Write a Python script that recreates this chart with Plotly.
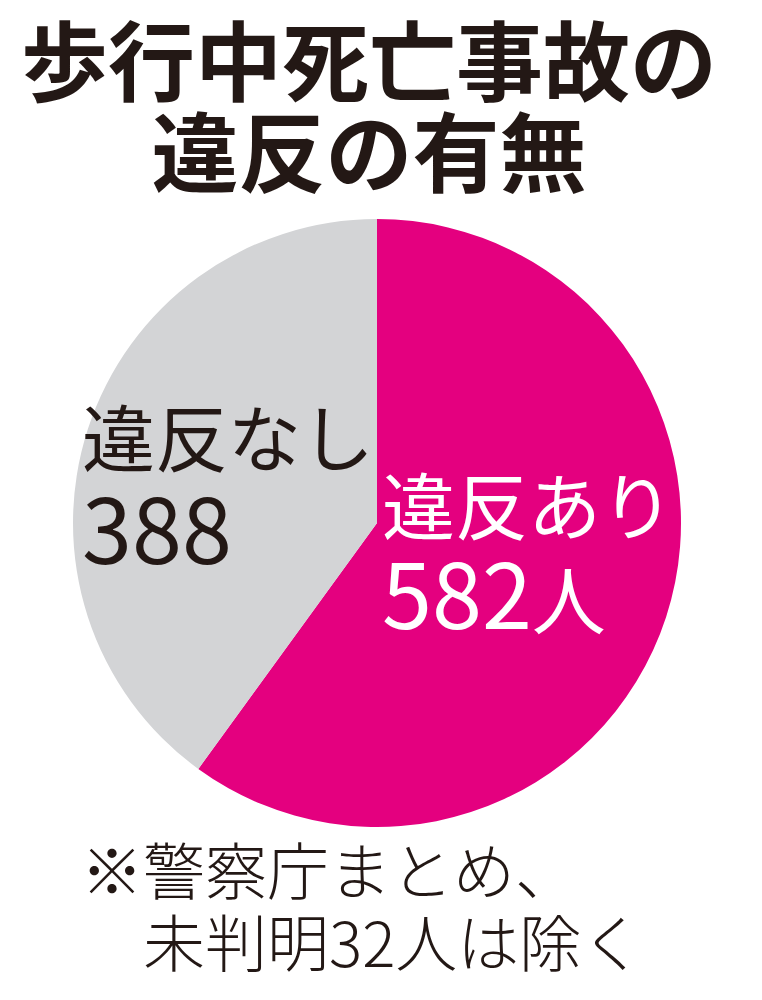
import plotly.graph_objects as go

# ---- data ----
title_lines = ["歩行中死亡事故の", "違反の有無"]
categories = ["違反あり", "違反なし"]
values = [582, 388]
units = ["人", ""]
note_lines = ["※警察庁まとめ、", "未判明32人は除く"]

W, H = 762, 1000
OFF = 8  # default page body margin
MAGENTA = "#E4007F"
GRAY = "#D3D4D6"
INK = "#231815"
FONT = "Noto Sans CJK JP"


def px_x(x):
    return (x - OFF) / W


def px_y(y):
    return 1 - (y - OFF) / H


cx, cy, r = 377, 523, 304
fig = go.Figure(go.Pie(
    labels=categories,
    values=values,
    sort=False,
    direction="clockwise",
    rotation=0,
    marker=dict(colors=[MAGENTA, GRAY], line=dict(width=0)),
    textinfo="none",
    hoverinfo="label+value",
    showlegend=False,
    domain=dict(x=[px_x(cx - r), px_x(cx + r)], y=[px_y(cy + r), px_y(cy - r)]),
))


def sized(s, size):
    return f"<span style='font-size:{size}px'>{s}</span>"


ann = []
# title: two centred bold lines in one text (base size sets the line gap)
ann.append(dict(text="<br>".join(sized(t, 87) for t in title_lines),
                x=px_x(369), y=px_y(103), xanchor="center", yanchor="middle", align="center",
                font=dict(family=FONT, size=70, color=INK, weight=700)))

# slice labels
label_pos = {
    "違反あり": dict(x=380, y=552, color="#FFFFFF", base=73),
    "違反なし": dict(x=80, y=485, color=INK, base=75),
}
for cat, val, unit in zip(categories, values, units):
    p = label_pos[cat]
    num = sized(str(val), 90) + (sized(unit, 74) if unit else "")
    ann.append(dict(text=sized(cat, 73) + "<br>" + num,
                    x=px_x(p["x"]), y=px_y(p["y"]), xanchor="left", yanchor="middle", align="left",
                    font=dict(family=FONT, size=p["base"], color=p["color"])))

# footnote (second line indented by one full-width space)
note_text = "<br>".join(sized(("" if i == 0 else "\u3000") + t, 62) for i, t in enumerate(note_lines))
ann.append(dict(text=note_text, x=px_x(79), y=px_y(904), xanchor="left", yanchor="middle", align="left",
                font=dict(family=FONT, size=55, color=INK, weight=300)))

for a in ann:
    a.update(xref="paper", yref="paper", showarrow=False)

fig.update_layout(
    width=W, height=H,
    margin=dict(l=0, r=0, t=0, b=0),
    paper_bgcolor="white", plot_bgcolor="white",
    annotations=ann,
)

fig.write_html("out.html")
